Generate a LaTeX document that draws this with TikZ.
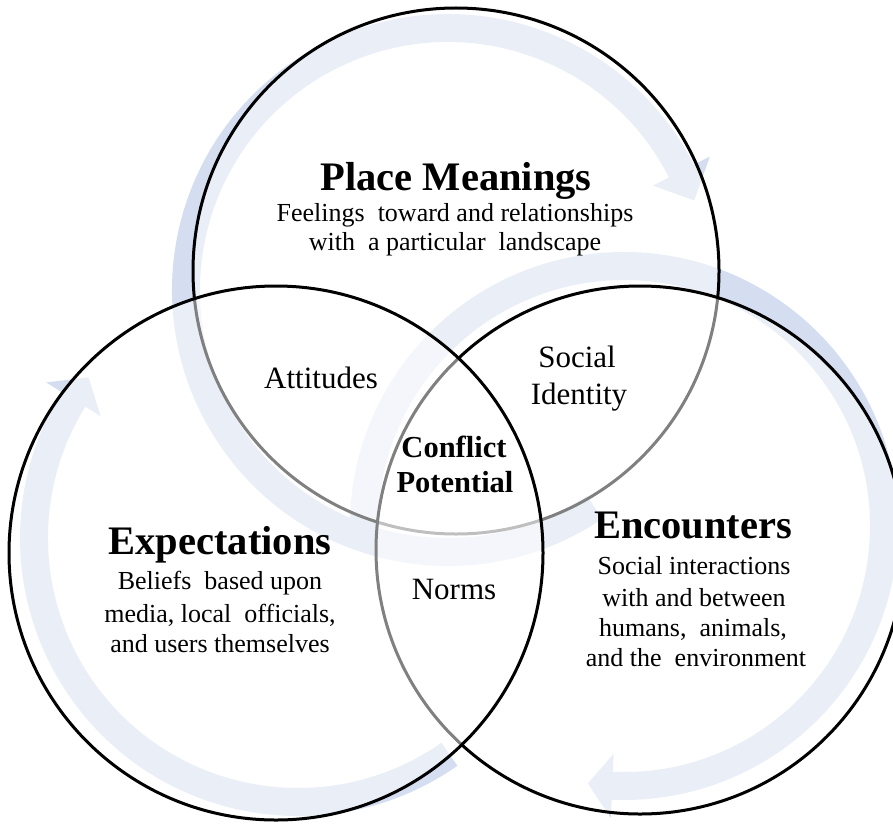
\documentclass[tikz,border=0pt]{standalone}
\usepackage{fontspec}
\setmainfont{Liberation Serif}
\definecolor{bandblue}{RGB}{213,222,240}
\newcommand\ringarrow[6]{%
  \pgfmathsetmacro\rao{#3+14}%
  \pgfmathsetmacro\rai{#3-14}%
  \pgfmathsetmacro\rho{#3+32}%
  \pgfmathsetmacro\rhi{#3-32}%
  \begin{scope}[shift={(#1,#2)}]
    \fill[band] (#4:\rao) arc[start angle=#4, end angle=#5, radius=\rao]
      -- (#5:\rho) -- (#6:#3) -- (#5:\rhi) -- (#5:\rai)
      arc[start angle=#5, end angle=#4, radius=\rai] -- cycle;
  \end{scope}}
\begin{document}
\begin{tikzpicture}[x=1pt,y=-1pt,
  ring/.style={line width=3pt, draw=black, fill=white, fill opacity=0.5},
  band/.style={fill=bandblue},
  ttl/.style={font=\fontsize{40.5}{44}\selectfont\bfseries, anchor=base, inner sep=0pt},
  body/.style={font=\fontsize{26}{30}\selectfont, anchor=base, inner sep=0pt},
  mid/.style={font=\fontsize{31}{34}\selectfont, anchor=base, inner sep=0pt},
  midb/.style={font=\fontsize{30.5}{34}\selectfont\bfseries, anchor=base, inner sep=0pt}]
\fill[white] (0,0) rectangle (893,824);
\useasboundingbox (0,0) rectangle (893,824);
% background circular arrows
\ringarrow{448}{290}{262}{56}{333}{340}
\ringarrow{624}{526}{260}{176}{452.6}{458}
\ringarrow{298}{538}{264}{55}{211.7}{217.5}
% circles (drawn top, right, left)
\coordinate (ctop) at (456,271);
\coordinate (cright) at (640,550);
\coordinate (cleft) at (276,553);
\draw[ring] (ctop) circle[radius=263];
\draw[ring] (cright) circle[radius=264];
\draw[ring] (cleft) circle[radius=267];
% texts
\node[ttl] (pm) at (456,190) {Place Meanings};
\node[body] (pm1) at (455,221) {Feelings\ \ toward and relationships};
\node[body] (pm2) at (455,250) {with\ \ a particular\ \ landscape};
\node[mid] (att) at (321,388) {Attitudes};
\node[mid] (si1) at (577,367) {Social};
\node[mid] (si2) at (579,404) {Identity};
\node[midb] (cp1) at (454,457) {Conflict};
\node[midb] (cp2) at (455,492) {Potential};
\node[ttl] (ex) at (220,554) {Expectations};
\node[body] (ex1) at (220,589) {Beliefs\ \ based upon};
\node[body] (ex2) at (220,622) {media,\ local\ \ officials,};
\node[body] (ex3) at (220,652) {and users\ themselves};
\node[ttl] (en) at (693,538) {Encounters};
\node[body] (en1) at (694,574) {Social\ interactions};
\node[body] (en2) at (694,606) {with and between};
\node[body] (en3) at (693,636) {humans,\ \ animals,};
\node[body] (en4) at (696,666) {and the\ \ environment};
\node[mid] (nm) at (454,599) {Norms};
\end{tikzpicture}
\end{document}
